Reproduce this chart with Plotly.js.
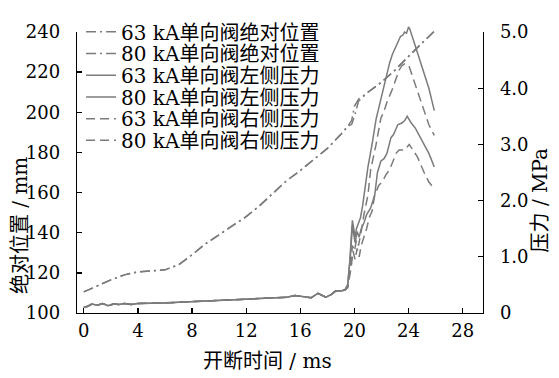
<!DOCTYPE html>
<html>
<head>
<meta charset="utf-8">
<script src="https://cdn.plot.ly/plotly-3.0.1.min.js"></script>
<style>
html,body{margin:0;padding:0;background:#fff;}
#chart{width:559px;height:378px;}
</style>
</head>
<body>
<div id="chart"></div>
<script>
// ---- data ----
var seriesNames = ["63 kA单向阀绝对位置","80 kA单向阀绝对位置","63 kA单向阀左侧压力","80 kA单向阀左侧压力","63 kA单向阀右侧压力","80 kA单向阀右侧压力"];

// absolute position (mm)
var tPos = [0,1,2,3,4,5,6,7,8,9,10,11,12,13,14,15,16,17,18,19,19.5,19.8,20,20.3,21,22,23,24,25,26];
var pos63 = [110.5,113.5,116.5,119,120.5,121,121.5,124,129,134.5,139,143.5,148,153.5,160,166,171,176.5,182,189,193,196,203,206.5,210,215,221,228,234.5,241];
var pos80 = [110.5,113.5,116.5,119,120.5,121,121.5,124,129,134.5,139,143.5,148,153.5,160,166,171,176.5,182,189,193,194,198,205.5,210,215,221,228,234.5,241];

// pressure (MPa), shared slow part before opening
var tEarly = [0,0.3,0.6,1.0,1.4,1.8,2.2,2.6,3.0,3.5,4,5,6,7,8,9,10,11,12,13,14,15,15.6,16.0,16.4,16.8,17.3,17.6,17.9,18.3,18.6,19.0,19.3];
var pEarly = [0.1,0.12,0.16,0.14,0.17,0.13,0.16,0.15,0.17,0.15,0.17,0.17,0.18,0.19,0.2,0.21,0.22,0.23,0.24,0.25,0.27,0.28,0.31,0.3,0.28,0.27,0.35,0.31,0.28,0.33,0.39,0.39,0.41];

var t63L = [19.5,19.7,19.85,19.95,20.05,20.2,20.35,20.5,20.7,20.9,21.2,21.5,21.7,21.95,22.2,22.4,22.7,22.9,23.2,23.5,23.7,23.9,24.0,24.2,24.5,25.0,25.5,25.9];
var p63L = [0.5,1.0,1.55,1.4,1.25,1.45,1.35,1.5,1.6,1.75,1.87,2.1,2.5,2.7,2.75,2.84,3.12,3.18,3.35,3.38,3.42,3.5,3.46,3.38,3.29,3.07,2.84,2.6];

var t80L = [19.5,19.65,19.78,19.85,19.95,20.05,20.15,20.3,20.45,20.6,20.8,21.0,21.3,21.6,21.8,22.0,22.2,22.4,22.6,22.8,23.0,23.2,23.4,23.6,23.7,23.85,24.0,24.1,24.3,24.5,24.8,25.0,25.3,25.5,25.7,25.9];
var p80L = [0.5,0.9,1.4,1.65,1.5,1.35,1.5,1.62,1.7,1.9,2.25,2.6,3.0,3.45,3.65,3.85,4.1,4.26,4.45,4.6,4.7,4.8,4.92,4.95,5.0,4.98,5.09,5.05,4.9,4.72,4.5,4.37,4.15,4.0,3.8,3.6];

var t63R = [19.5,19.75,19.9,20.05,20.2,20.35,20.5,20.7,20.9,21.1,21.3,21.5,21.8,22.1,22.3,22.6,22.9,23.1,23.3,23.7,24.05,24.3,24.65,25.15,25.5,25.8];
var p63R = [0.45,0.8,1.1,0.95,1.15,1.0,1.2,1.35,1.5,1.7,1.81,2.1,2.27,2.35,2.45,2.55,2.75,2.85,2.9,2.9,3.0,2.9,2.78,2.5,2.33,2.24];

var t80R = [19.5,19.7,19.85,20.0,20.15,20.3,20.5,20.7,21.0,21.2,21.6,21.95,22.2,22.4,22.8,23.2,23.3,23.5,23.7,23.9,24.05,24.3,24.8,25.2,25.5,25.9];
var p80R = [0.45,0.8,1.2,1.1,1.3,1.2,1.45,1.75,2.1,2.55,3.0,3.46,3.6,3.75,3.98,4.23,4.32,4.4,4.43,4.38,4.38,4.2,3.86,3.58,3.35,3.16];

var xTicks = [0,4,8,12,16,20,24,28];
var yTicks = [100,120,140,160,180,200,220,240];
var y2Ticks = [0,1,2,3,4,5];
var y2TickText = ["0","1.0","2.0","3.0","4.0","5.0"];

// ---- styling ----
var gray = "#7b7b7b";
var FONT = "DejaVu Serif, Noto Sans CJK SC, serif";
var dashDot = "10px,4px,2px,4px";
var dashed = "9px,5px";

function tr(name, x, y, dash, axis){
  return {x:x, y:y, name:name, type:"scatter", mode:"lines", yaxis:axis,
    line:{color:gray, width:1.5, dash:dash}};
}

var data = [
  tr(seriesNames[0], tPos, pos63, dashDot, "y"),
  tr(seriesNames[1], tPos, pos80, dashDot, "y"),
  tr(seriesNames[2], tEarly.concat(t63L), pEarly.concat(p63L), "solid", "y2"),
  tr(seriesNames[3], tEarly.concat(t80L), pEarly.concat(p80L), "solid", "y2"),
  tr(seriesNames[4], tEarly.concat(t63R), pEarly.concat(p63R), dashed, "y2"),
  tr(seriesNames[5], tEarly.concat(t80R), pEarly.concat(p80R), dashed, "y2")
];

var axisCommon = {showgrid:false, zeroline:false, showline:true, linecolor:"#000", linewidth:1.3,
  ticks:"inside", ticklen:5, tickwidth:1.3, tickcolor:"#000",
  tickfont:{family:FONT, size:18, color:"#000"}};

var layout = {
  width:559, height:378,
  margin:{l:77, r:76, t:20, b:65, pad:0},
  paper_bgcolor:"#fff", plot_bgcolor:"#fff",
  font:{family:FONT, size:18, color:"#000"},
  showlegend:true,
  legend:{x:0.01, y:1.07, xanchor:"left", yanchor:"top", bgcolor:"rgba(0,0,0,0)", borderwidth:0,
    font:{family:FONT, size:20, color:"#000"}, tracegroupgap:0},
  xaxis:Object.assign({}, axisCommon, {range:[-0.5,29.5], tickmode:"array", tickvals:xTicks, ticklabelstandoff:1}),
  yaxis:Object.assign({}, axisCommon, {range:[100,240], tickmode:"array", tickvals:yTicks, ticklabelstandoff:12}),
  yaxis2:Object.assign({}, axisCommon, {range:[0,5], overlaying:"y", side:"right", tickmode:"array",
    tickvals:y2Ticks, ticktext:y2TickText, ticklabelstandoff:12}),
  annotations:[
    {text:"开断时间 / ms", xref:"paper", yref:"paper", x:0.47, y:-0.17, xanchor:"center", yanchor:"middle", showarrow:false,
      font:{family:FONT, size:20, color:"#000"}},
    {text:"绝对位置 / mm", xref:"paper", yref:"paper", x:-0.14, y:0.31, xanchor:"center", yanchor:"middle", showarrow:false, textangle:-90,
      font:{family:FONT, size:20, color:"#000"}},
    {text:"压力 / MPa", xref:"paper", yref:"paper", x:1.14, y:0.40, xanchor:"center", yanchor:"middle", showarrow:false, textangle:-90,
      font:{family:FONT, size:20, color:"#000"}}
  ]
};

Plotly.newPlot("chart", data, layout, {displayModeBar:false, staticPlot:true}).then(function(gd){
  // tighten legend row spacing to match the reference
  var items = gd.querySelectorAll(".legend .traces");
  var first = null;
  items.forEach(function(el, i){
    var t = el.getAttribute("transform") || "";
    var m = /translate\(\s*([-\d.e]+)[\s,]+([-\d.e]+)\s*\)/.exec(t);
    if(m){
      if(first === null) first = parseFloat(m[2]);
      el.setAttribute("transform", "translate(" + m[1] + "," + (first + i*21.7) + ")");
    }
  });
  // let the curve tips that pass the top of the frame show, as in the reference
  gd.querySelectorAll(".cartesianlayer [clip-path]").forEach(function(g){ g.removeAttribute("clip-path"); });
});
</script>
</body>
</html>
